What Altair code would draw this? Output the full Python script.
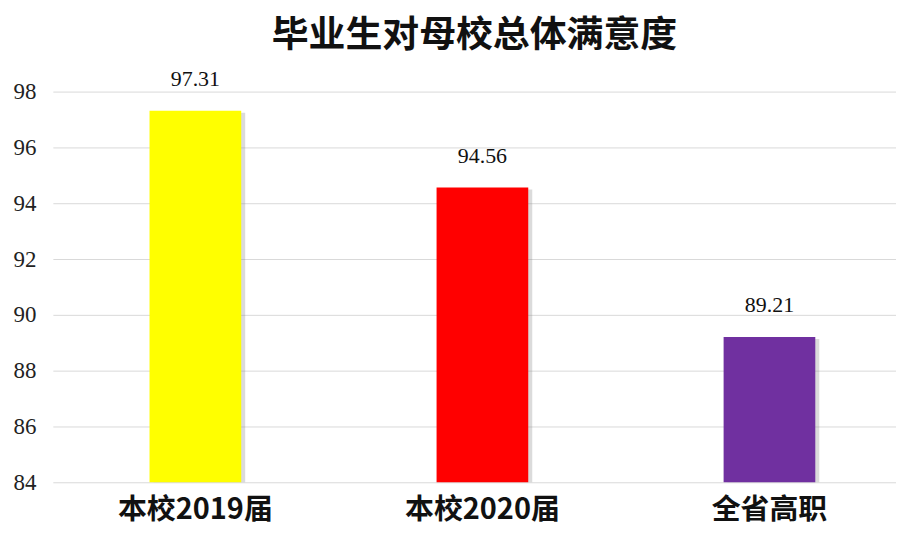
import altair as alt
import pandas as pd

categories = ["本校2019届", "本校2020届", "全省高职"]
values = [97.31, 94.56, 89.21]
colors = ["#FFFF00", "#FF0000", "#7030A0"]
y_ticks = [84, 86, 88, 90, 92, 94, 96, 98]

df = pd.DataFrame({"cat": categories, "val": values, "label": [f"{v:.2f}" for v in values]})

x_scale = alt.Scale(domain=categories, paddingInner=0.6806, paddingOuter=0.309, align=0.545)
y_scale = alt.Scale(domain=[84, 98], nice=False, zero=False)

x_enc = alt.X("cat:N", scale=x_scale, sort=categories, title=None,
              axis=alt.Axis(labelAngle=0, labelFont="Noto Sans CJK SC", labelFontSize=29,
                            labelFontWeight="bold", labelColor="#111111", labelPadding=13,
                            ticks=False, domain=False, grid=False))
y_enc = alt.Y("val:Q", scale=y_scale, title=None,
              axis=alt.Axis(values=y_ticks, labelFont="Liberation Serif", labelFontSize=23,
                            labelColor="#222222", labelPadding=17, ticks=False, domain=False,
                            grid=True, gridColor="#d9d9d9", gridWidth=1))

base = alt.Chart(df)

shadow = base.mark_bar(color="#888888", opacity=0.3, xOffset=4, yOffset=2).encode(
    x=x_enc, y=y_enc, y2=alt.datum(84)
)

bars = base.mark_bar().encode(
    x=x_enc, y=y_enc, y2=alt.datum(84),
    color=alt.Color("cat:N", scale=alt.Scale(domain=categories, range=colors), legend=None),
)

labels = base.mark_text(font="Liberation Serif", fontSize=22, color="#111111", dy=-20, baseline="bottom").encode(
    x=x_enc, y=y_enc, text="label:N"
)

chart = (shadow + bars + labels).properties(
    width=846, height=392,
    background="white",
    padding={"left": 5, "top": 8, "right": 0, "bottom": 4},
    title=alt.TitleParams("毕业生对母校总体满意度", font="Noto Sans CJK SC", fontSize=37,
                          fontWeight="bold", color="#111111", anchor="middle", offset=13),
).configure_view(strokeWidth=0, stroke=None)

chart.save("out.html", embed_options={"renderer": "svg", "actions": False})
